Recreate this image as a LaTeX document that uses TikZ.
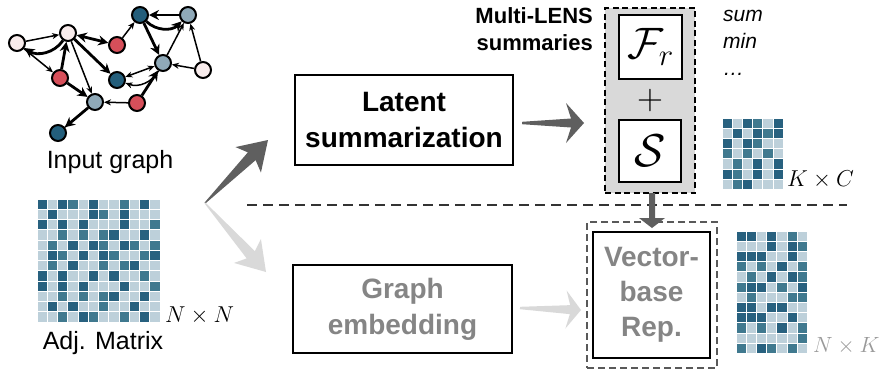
\documentclass[tikz,border=0pt]{standalone}
\usepackage{fix-cm}
\usepackage{fontspec}
\setmainfont{Liberation Sans}
\usetikzlibrary{calc,arrows.meta}

\definecolor{vpink}{HTML}{F8ECEC}
\definecolor{vred}{HTML}{D64F5A}
\definecolor{vdark}{HTML}{235E7B}
\definecolor{vgray}{HTML}{8FA9B8}
\definecolor{m0}{HTML}{BDD0DA}
\definecolor{m1}{HTML}{40798F}
\definecolor{m2}{HTML}{28617F}
\definecolor{arrowdark}{HTML}{5F5F5F}
\definecolor{arrowlight}{HTML}{D9D9D9}
\definecolor{panelgray}{HTML}{D9D9D9}
\definecolor{textgray}{HTML}{858585}

% tapered block arrow:
% colour, from, to, head length, notch length, head half width, shaft half width, tail half width
\newcommand\fatarrow[8]{%
  \coordinate (fa-b) at ($(#3)!#4!(#2)$);
  \coordinate (fa-n) at ($(#3)!#5!(#2)$);
  \fill[#1] ($(#2)!#8!90:(#3)$) -- ($(fa-n)!#7!-90:(#2)$) -- ($(fa-b)!#6!-90:(#2)$)
    -- (#3) -- ($(fa-b)!#6!90:(#2)$) -- ($(fa-n)!#7!90:(#2)$) -- ($(#2)!#8!-90:(#3)$) -- cycle;
}

% heat-map grid: x, y of top-left corner, cell size, rows
\newcommand\heatgrid[4]{%
  \begin{scope}[shift={(#1,#2)}]
    \foreach \row [count=\r] in {#4} {
      \foreach \v [count=\c] in \row {
        \fill[m\v, draw=white, line width=0.7pt]
          ({(\c-1)*#3},{(\r-1)*#3}) rectangle ++(#3,#3);
      }
    }
  \end{scope}
}

\tikzset{
  gnode/.style={circle, draw=black, line width=2pt, minimum size=16pt, inner sep=0pt},
  ethin/.style={-{Stealth[length=7pt,width=6pt]}, line width=1.5pt},
  ethick/.style={-{Stealth[length=10pt,width=10pt]}, line width=2.8pt},
  procbox/.style={draw=black, line width=1.5pt, inner sep=0pt, align=center,
    font=\bfseries\fontsize{28}{36}\selectfont},
  mathbox/.style={draw=black, fill=white, line width=1.5pt, inner sep=0pt},
  lbl/.style={font=\fontsize{25}{30}\selectfont, inner sep=0pt},
  dimlbl/.style={font=\fontsize{23}{28}\selectfont, inner sep=0pt, anchor=base west},
}

\begin{document}
\begin{tikzpicture}[x=1pt, y=-1pt]
\useasboundingbox (0,0) rectangle (884,373);

% ---- input graph ----
\node[gnode, fill=vpink] (A) at (17,43) {};
\node[gnode, fill=vpink] (B) at (68,33) {};
\node[gnode, fill=vred]  (C) at (117,45) {};
\node[gnode, fill=vdark] (D) at (140,15) {};
\node[gnode, fill=vgray] (E) at (188,15) {};
\node[gnode, fill=vred]  (F) at (60,78) {};
\node[gnode, fill=vdark] (G) at (117,80) {};
\node[gnode, fill=vgray] (H) at (163,63) {};
\node[gnode, fill=vpink] (I) at (203,70) {};
\node[gnode, fill=vgray] (J) at (95,102) {};
\node[gnode, fill=vred]  (K) at (137,103) {};
\node[gnode, fill=vdark] (L) at (58,133) {};

\draw[ethick] (B) to[bend left=45] (A);
\draw[ethin] (A) -- (B);
\draw[ethin] (A) -- (F);
\draw[ethick] (F) -- (B);
\draw[ethin] (B) -- (J);
\draw[ethick] (F) -- (J);
\draw[ethick] (B) -- (G);
\draw[ethick, {Stealth[length=10pt,width=10pt]}-{Stealth[length=10pt,width=10pt]}] (B) -- (C);
\draw[ethin] (C) -- (D);
\draw[ethick] (D) to[bend right=45] (E);
\draw[ethick] (E) -- (D);
\draw[ethick] (D) -- (H);
\draw[ethin] (I) -- (E);
\draw[ethin] (H) -- (E);
\draw[ethin] (I) -- (H);
\draw[ethin] (H) to[bend left=40] (G);
\draw[ethin, {Stealth[length=7pt,width=6pt]}-{Stealth[length=7pt,width=6pt]}] (G) -- (H);
\draw[ethin] (K) -- (J);
\draw[ethick] (K) -- (H);
\draw[ethick] (J) -- (L);
\draw[line width=1.5pt, dashed] (L) -- (J);

\node[lbl] (graphlbl) at (110,162) {Input graph};

% ---- adjacency matrix ----
\heatgrid{37}{199}{10.25}{
  {2,0,2,1,0,2,0,0,1,0,2,0},
  {0,2,0,0,0,2,1,0,2,0,0,0},
  {2,0,2,0,2,0,0,0,2,0,0,1},
  {0,0,1,0,1,0,1,2,0,0,2,0},
  {0,1,0,2,0,2,1,0,2,1,0,1},
  {0,2,1,0,2,0,2,1,0,0,1,2},
  {0,1,0,2,0,0,1,0,1,2,0,0},
  {2,0,2,0,0,2,0,2,0,0,1,0},
  {2,0,2,0,2,0,0,0,2,0,0,1},
  {0,0,1,0,1,0,1,2,0,0,2,0},
  {0,2,0,2,0,0,1,0,0,2,0,0},
  {0,0,1,0,2,1,0,0,1,0,2,0}}
\node[dimlbl] (nnlbl) at (165,322) {$N\times N$};
\node[lbl] (adjlbl) at (103,343) {Adj. Matrix};

% ---- split arrows ----
\coordinate (split) at (205,203);
\coordinate (tipup) at (268,140);
\coordinate (tipdown) at (266,272);
\fatarrow{arrowdark}{split}{tipup}{28pt}{23pt}{18pt}{5.5pt}{0.6pt}
\fatarrow{arrowlight}{split}{tipdown}{28pt}{23pt}{18pt}{5.5pt}{0.6pt}

% ---- processing boxes ----
\node[procbox, minimum width=218pt, minimum height=90pt] (latent) at (404,120)
  {Latent\\summarization};
\node[procbox, minimum width=219pt, minimum height=88pt, text=textgray] (embed) at (402.5,309)
  {Graph\\embedding};

% ---- Multi-LENS summaries ----
\node[draw=black, dashed, dash pattern=on 6pt off 3.5pt, fill=panelgray, line width=1.5pt,
  minimum width=90pt, minimum height=185pt, inner sep=0pt] (lens) at (650,100.5) {};
\node[mathbox, minimum width=63pt, minimum height=64pt] (Fr) at (650.5,47)
  {\fontsize{44}{44}\selectfont$\mathcal{F}_r$};
\node[inner sep=0pt, font=\fontsize{36}{36}\selectfont] (plus) at (650,100) {$+$};
\node[mathbox, minimum width=62pt, minimum height=62pt] (S) at (650,151)
  {\fontsize{46}{46}\selectfont$\mathcal{S}$};
\node[anchor=east, align=right, inner sep=0pt, font=\bfseries\fontsize{22}{27}\selectfont]
  (lenslbl) at (593,29) {Multi-LENS\\summaries};
\node[anchor=north west, align=left, inner sep=0pt, font=\itshape\fontsize{21}{27}\selectfont]
  (ops) at (723,10) {sum\\min\\\ldots};

\heatgrid{722}{118}{10.2}{
  {2,0,2,1,0,2},
  {0,2,0,2,1,2},
  {2,0,2,1,0,0},
  {1,0,1,0,1,0},
  {0,1,0,2,0,2},
  {2,1,0,2,0,2},
  {0,1,2,0,0,0}}
\node[dimlbl] (kclbl) at (787,186) {$K\times C$};

% ---- summary to embedding arrow ----
\coordinate (latout) at (522,123);
\coordinate (lensin) at (584,123);
\fatarrow{arrowdark}{latout}{lensin}{18pt}{13pt}{20pt}{4.5pt}{1.2pt}
\coordinate (embout) at (520,308);
\coordinate (vecin) at (581,310);
\fatarrow{arrowlight}{embout}{vecin}{15pt}{11pt}{19pt}{4.5pt}{1.2pt}

% ---- separator ----
\coordinate (sepl) at (247,205);
\coordinate (sepr) at (847,205);
\draw[black!80, line width=1.2pt, dash pattern=on 10pt off 6pt] (sepl) -- (sepr);

% ---- vector-based representation ----
\node[draw=black!65, dashed, dash pattern=on 7pt off 4pt, line width=1.2pt,
  minimum width=130pt, minimum height=146pt, inner sep=0pt] (vecouter) at (652,295) {};
\node[procbox, minimum width=117pt, minimum height=126pt, text=textgray,
  font=\bfseries\fontsize{28}{35}\selectfont] (vec) at (651.5,295) {Vector-\\base\\Rep.};

\coordinate (lensdown) at (652,193);
\coordinate (vectop) at (652,228);
\fatarrow{arrowdark}{lensdown}{vectop}{10pt}{10pt}{13pt}{3pt}{3pt}

\heatgrid{736}{231}{10.2}{
  {2,2,0,2,0,1,0},
  {0,0,0,2,0,2,1},
  {2,2,2,0,0,2,0},
  {1,0,1,0,2,0,1},
  {0,1,0,2,0,2,1},
  {1,2,2,0,1,0,2},
  {0,1,0,0,0,1,1},
  {2,2,0,2,2,0,0},
  {2,2,2,0,0,2,0},
  {1,0,1,0,2,0,1},
  {0,0,0,0,0,0,1},
  {1,0,2,1,0,1,0}}
\node[dimlbl, font=\fontsize{22}{27}\selectfont, text=black!40] (nklbl) at (813,352) {$N\times K$};
\end{tikzpicture}
\end{document}
